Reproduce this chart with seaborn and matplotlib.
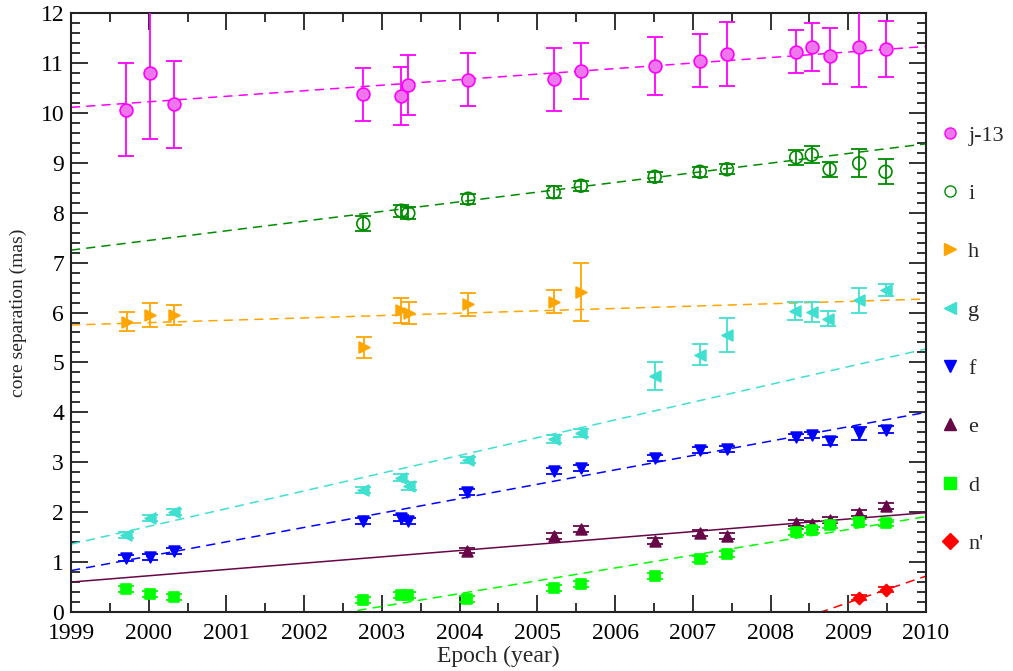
import numpy as np
import pandas as pd
import matplotlib
matplotlib.use('Agg')
import matplotlib.pyplot as plt
import seaborn as sns
from matplotlib.lines import Line2D
from matplotlib.ticker import MultipleLocator

# component labels, colours and marker shapes
components = ["j-13", "i", "h", "g", "f", "e", "d", "n'"]
colors = ["#ff00ff", "#008b00", "#ffa500", "#40e0d0", "#0000ff", "#670748", "#00ff00", "#ff0000"]
markers = ["o", "o", ">", "<", "v", "^", "s", "D"]

# epochs (year) and core separations (mas)
j13_t = [1999.71, 2000.02, 2000.32, 2002.76, 2003.25, 2003.34, 2004.11, 2005.21, 2005.56,
         2006.51, 2007.09, 2007.44, 2008.33, 2008.53, 2008.76, 2009.14, 2009.48]
j13_r = [10.06, 10.79, 10.17, 10.37, 10.34, 10.56, 10.66, 10.67, 10.84,
         10.93, 11.04, 11.18, 11.22, 11.32, 11.14, 11.31, 11.28]
j13_e = [0.93, 1.31, 0.87, 0.53, 0.58, 0.60, 0.53, 0.63, 0.56,
         0.58, 0.53, 0.65, 0.43, 0.48, 0.56, 0.80, 0.57]

i_t = [2002.76, 2003.25, 2003.34, 2004.11, 2005.21, 2005.56, 2006.51, 2007.09, 2007.44,
       2008.33, 2008.53, 2008.76, 2009.14, 2009.48]
i_r = [7.78, 8.04, 7.99, 8.28, 8.41, 8.54, 8.72, 8.82, 8.87, 9.11, 9.16, 8.87, 8.99, 8.82]
i_e = [0.15, 0.12, 0.12, 0.10, 0.12, 0.10, 0.10, 0.10, 0.10, 0.15, 0.17, 0.15, 0.28, 0.25]

h_t = [1999.72, 2000.02, 2000.33, 2002.77, 2003.25, 2003.35, 2004.11, 2005.22, 2005.56]
h_r = [5.82, 5.95, 5.95, 5.30, 6.05, 5.99, 6.17, 6.22, 6.42]
h_e = [0.20, 0.24, 0.20, 0.21, 0.25, 0.22, 0.23, 0.23, 0.58]

g_t = [1999.71, 2000.02, 2000.32, 2002.76, 2003.25, 2003.35, 2004.11, 2005.21, 2005.56,
       2006.51, 2007.09, 2007.44, 2008.31, 2008.53, 2008.74, 2009.14, 2009.48]
g_r = [1.54, 1.88, 2.01, 2.44, 2.69, 2.53, 3.05, 3.47, 3.58,
       4.72, 5.15, 5.55, 6.04, 6.01, 5.88, 6.25, 6.45]
g_e = [0.06, 0.06, 0.06, 0.06, 0.07, 0.08, 0.06, 0.08, 0.08,
       0.28, 0.21, 0.35, 0.18, 0.20, 0.15, 0.25, 0.12]

f_t = [1999.71, 2000.02, 2000.32, 2002.76, 2003.25, 2003.34, 2004.10, 2005.21, 2005.56,
       2006.51, 2007.09, 2007.44, 2008.33, 2008.53, 2008.76, 2009.14, 2009.48]
f_r = [1.08, 1.11, 1.22, 1.82, 1.89, 1.82, 2.40, 2.83, 2.89,
       3.09, 3.25, 3.27, 3.51, 3.55, 3.43, 3.58, 3.65]
f_e = [0.06, 0.06, 0.06, 0.06, 0.06, 0.06, 0.06, 0.06, 0.06,
       0.06, 0.06, 0.06, 0.06, 0.06, 0.08, 0.13, 0.07]

e_t = [2004.10, 2005.21, 2005.56, 2006.51, 2007.09, 2007.44, 2008.33, 2008.53, 2008.76, 2009.14, 2009.48]
e_r = [1.23, 1.52, 1.66, 1.43, 1.58, 1.53, 1.79, 1.76, 1.84, 1.99, 2.12]
e_e = [0.05, 0.06, 0.06, 0.06, 0.06, 0.06, 0.06, 0.06, 0.06, 0.06, 0.06]

d_t = [1999.71, 2000.02, 2000.32, 2002.76, 2003.25, 2003.34, 2004.10, 2005.21, 2005.56,
       2006.51, 2007.09, 2007.44, 2008.33, 2008.53, 2008.76, 2009.14, 2009.48]
d_r = [0.46, 0.36, 0.31, 0.24, 0.34, 0.35, 0.26, 0.49, 0.57,
       0.73, 1.06, 1.16, 1.61, 1.64, 1.74, 1.81, 1.78]
d_e = [0.06] * 17

n_t = [2009.14, 2009.48]
n_r = [0.29, 0.45]
n_e = [0.05, 0.05]

# linear fits: separation at 1999 and at 2010
fit_x = [1999, 2010]
fit_1999 = [10.11, 7.25, 5.75, 1.36, 0.83, 0.60, -0.915, -5.14]
fit_2010 = [11.33, 9.38, 6.27, 5.27, 4.00, 1.99, 1.91, 0.72]
fit_solid = [False, False, False, False, False, True, False, False]

series = [(j13_t, j13_r, j13_e), (i_t, i_r, i_e), (h_t, h_r, h_e), (g_t, g_r, g_e),
          (f_t, f_r, f_e), (e_t, e_r, e_e), (d_t, d_r, d_e), (n_t, n_r, n_e)]

sns.set_style("ticks")
plt.rcParams['font.family'] = ['Liberation Serif', 'DejaVu Serif']

fig = plt.figure(figsize=(10.13, 6.71), dpi=100)
ax = fig.add_axes([0.0701, 0.0879, 0.8440, 0.8927])

for k, (name, col, mk) in enumerate(zip(components, colors, markers)):
    ls = "-" if fit_solid[k] else (0, (6, 4))
    sns.lineplot(x=fit_x, y=[fit_1999[k], fit_2010[k]], color=col, lw=1.1,
                 linestyle=ls, ax=ax, legend=False, zorder=2)

sizes = {"o": 85, ">": 60, "<": 60, "v": 60, "^": 60, "s": 50, "D": 38}
for k, (name, col, mk) in enumerate(zip(components, colors, markers)):
    t, r, e = series[k]
    df = pd.DataFrame({"t": t, "r": r, "e": e})
    ax.errorbar(df["t"], df["r"], yerr=df["e"], fmt="none", ecolor=col,
                elinewidth=1.3, capsize=6, capthick=1.3, zorder=3)
    if k == 0:
        face, edge = "#ee77ee", col
    elif k == 1:
        face, edge = "none", col
    else:
        face, edge = col, col
    sns.scatterplot(data=df, x="t", y="r", marker=mk, s=sizes[mk], facecolor=face,
                    edgecolor=edge, linewidth=1.2, ax=ax, legend=False, zorder=4)

ax.set_xlim(1999, 2010)
ax.set_ylim(0, 12)
ax.xaxis.set_major_locator(MultipleLocator(1))
ax.xaxis.set_minor_locator(MultipleLocator(0.5))
ax.yaxis.set_major_locator(MultipleLocator(1))
ax.yaxis.set_minor_locator(MultipleLocator(0.2))
ax.tick_params(which="both", direction="in", top=True, right=True, labelsize=17,
               colors="#222222", labelcolor="black")
ax.tick_params(which="major", length=12.5, width=1.3)
ax.tick_params(which="minor", length=6.5, width=1.3)
ax.tick_params(axis="x", which="major", pad=8)
ax.tick_params(axis="y", which="major", pad=5)
for sp in ax.spines.values():
    sp.set_linewidth(1.5)
    sp.set_color("#222222")
ax.set_xlabel("Epoch (year)", fontsize=17, labelpad=1)
ax.set_ylabel("core separation (mas)", fontsize=14, labelpad=10)

handles = []
for k, (name, col, mk) in enumerate(zip(components, colors, markers)):
    face = "none" if k == 1 else ("#ee77ee" if k == 0 else col)
    handles.append(Line2D([], [], marker=mk, linestyle="none", color=col,
                          markerfacecolor=face, markeredgecolor=col, markersize=8))
ax.legend(handles=handles, labels=components, loc="center left", bbox_to_anchor=(1.0, 0.455),
          frameon=False, fontsize=16, labelspacing=1.7, handletextpad=0.3, borderaxespad=0.2,
          handlelength=1.0)

fig.savefig("out.png", dpi=100)
